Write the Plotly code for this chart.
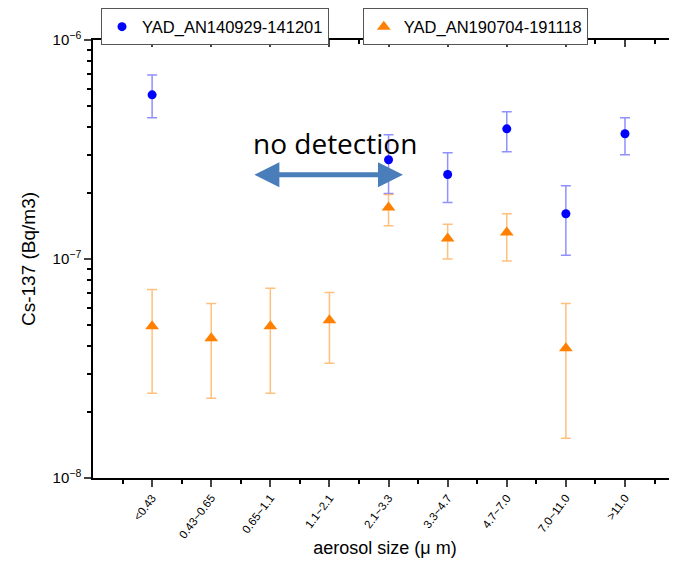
import plotly.graph_objects as go

categories = ["<0.43", "0.43~0.65", "0.65~1.1", "1.1~2.1", "2.1~3.3",
              "3.3~4.7", "4.7~7.0", "7.0~11.0", ">11.0"]

blue_name = "YAD_AN140929-141201"
blue_val = [5.62e-7, None, None, None, 2.84e-7, 2.43e-7, 3.93e-7, 1.61e-7, 3.73e-7]
blue_hi = [6.93e-7, None, None, None, 3.69e-7, 3.06e-7, 4.70e-7, 2.16e-7, 4.41e-7]
blue_lo = [4.41e-7, None, None, None, 1.99e-7, 1.81e-7, 3.09e-7, 1.04e-7, 2.99e-7]

orange_name = "YAD_AN190704-191118"
orange_val = [4.93e-8, 4.35e-8, 4.93e-8, 5.25e-8, 1.72e-7, 1.24e-7, 1.32e-7, 3.91e-8, None]
orange_hi = [7.26e-8, 6.27e-8, 7.35e-8, 7.03e-8, 1.97e-7, 1.44e-7, 1.61e-7, 6.27e-8, None]
orange_lo = [2.44e-8, 2.31e-8, 2.44e-8, 3.34e-8, 1.42e-7, 1.00e-7, 0.98e-7, 1.52e-8, None]

y_tickvals = [1e-8, 1e-7, 1e-6]
y_ticktext = ["10<sup>−8</sup>", "10<sup>−7</sup>", "10<sup>−6</sup>"]
y_minor = [m * 10.0 ** e for e in (-8, -7) for m in range(2, 10)]

idx = list(range(len(categories)))


def plus(v, h):
    return [None if a is None else b - a for a, b in zip(v, h)]


def minus(v, l):
    return [None if a is None else a - b for a, b in zip(v, l)]


fig = go.Figure()
fig.add_trace(go.Scatter(
    x=idx, y=blue_val, mode="markers", name=blue_name, legend="legend",
    marker=dict(symbol="circle", size=9, color="#0000ff"),
    error_y=dict(type="data", array=plus(blue_val, blue_hi),
                 arrayminus=minus(blue_val, blue_lo), color="rgba(70,70,255,0.6)",
                 thickness=1.5, width=5),
))
fig.add_trace(go.Scatter(
    x=idx, y=orange_val, mode="markers", name=orange_name, legend="legend2",
    marker=dict(symbol="triangle-up", size=12, color="#ff8000"),
    error_y=dict(type="data", array=plus(orange_val, orange_hi),
                 arrayminus=minus(orange_val, orange_lo), color="rgba(255,150,40,0.6)",
                 thickness=1.5, width=5),
))
# invisible trace for top axis
fig.add_trace(go.Scatter(x=[0], y=[None], xaxis="x2", showlegend=False, hoverinfo="skip"))

xr = [-1, 8.88]
fig.update_layout(
    width=677, height=565,
    paper_bgcolor="white", plot_bgcolor="white",
    margin=dict(l=85, r=8, t=32, b=95, autoexpand=False),
    font=dict(family="Liberation Sans, Arial, sans-serif", color="black"),
    xaxis=dict(
        range=xr, tickvals=idx, ticktext=categories, tickangle=-53,
        tickfont=dict(size=11.5), ticks="outside", ticklen=7, tickwidth=1.5,
        showline=True, linecolor="black", linewidth=1.5, showgrid=False, zeroline=False,
        minor=dict(tickvals=[i + 0.5 for i in range(-1, 9)], ticks="outside",
                   ticklen=4, tickwidth=1.5, tickcolor="black"),
        title=dict(text="aerosol size (μ m)", font=dict(size=18), standoff=2),
    ),
    xaxis2=dict(
        range=xr, overlaying="x", side="top", tickvals=idx, showticklabels=False,
        ticks="inside", ticklen=7, tickwidth=1.5, showline=True, linecolor="black",
        linewidth=1.5, showgrid=False, zeroline=False,
        minor=dict(tickvals=[i + 0.5 for i in range(-1, 9)], ticks="inside",
                   ticklen=4, tickwidth=1.5, tickcolor="black"),
    ),
    yaxis=dict(
        type="log", range=[-8, -6], tickvals=y_tickvals, ticktext=y_ticktext,
        ticks="outside", ticklen=7, tickwidth=1.5, tickfont=dict(size=15),
        showline=True, linecolor="black", linewidth=1.5, showgrid=False, zeroline=False,
        minor=dict(tickvals=y_minor, ticks="outside", ticklen=4, tickwidth=1.5,
                   tickcolor="black"),
        title=dict(text="Cs-137 (Bq/m3)", font=dict(size=19), standoff=12),
    ),
    legend=dict(x=0.0137, y=1.072, xanchor="left", yanchor="top",
                bordercolor="#555555", borderwidth=1, font=dict(size=16.5),
                bgcolor="white", itemwidth=30),
    legend2=dict(x=0.462, y=1.072, xanchor="left", yanchor="top",
                 bordercolor="#555555", borderwidth=1, font=dict(size=16.5),
                 bgcolor="white", itemwidth=30),
    showlegend=True,
)

fig.add_annotation(
    x=1.73, y=-6.615, ax=4.27, ay=-6.615, xref="x", yref="y", axref="x", ayref="y",
    text="", showarrow=True, arrowhead=2, arrowside="end+start", arrowsize=1.0,
    arrowwidth=5, arrowcolor="#4a7ebb",
)
fig.add_annotation(
    x=3.1, y=-6.469, xref="x", yref="y", text="no detection", showarrow=False,
    font=dict(size=28, family="Open Sans, Liberation Sans, sans-serif", color="black"),
)

fig.write_html("out.html")
